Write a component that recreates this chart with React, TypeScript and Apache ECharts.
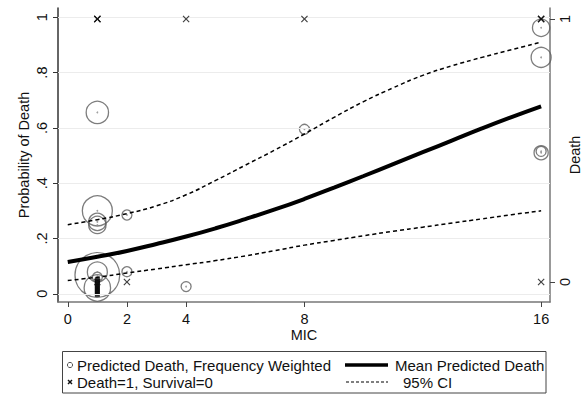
import React, { useEffect, useRef } from "react";
import * as echarts from "echarts";

// ---------- data ----------
const MIC_TICKS = [0, 2, 4, 8, 16];
const PROB_TICKS = [0, 0.2, 0.4, 0.6, 0.8, 1];
const DEATH_TICKS = [0, 1];

// predicted death (frequency weighted circles)
const circleMIC = [1, 1, 1, 1, 2, 1, 1, 1, 1, 2, 4, 8, 16, 16, 16, 16];
const circlePred = [0.656, 0.3, 0.26, 0.249, 0.285, 0.068, 0.079, 0.06, 0.021, 0.08, 0.026, 0.595, 0.962, 0.855, 0.51, 0.515];
const circleFreq = [5, 9, 3, 3, 1, 20, 4, 1, 7, 1, 1, 1, 3, 4, 2, 1];

// stacked tiny predictions near zero at MIC 1
const lowMIC = [1, 1, 1, 1, 1, 1, 1, 1, 1];
const lowPred = [0.052, 0.045, 0.038, 0.031, 0.024, 0.017, 0.01, 0.003, -0.004];

// observed outcome (Death=1, Survival=0)
const obsMIC = [1, 1, 1, 4, 8, 16, 16, 16, 1, 2, 16];
const obsDeath = [1, 1, 1, 1, 1, 1, 1, 1, 0, 0, 0];

// fitted curve and 95% CI
const curveMIC = [0, 1, 2, 3, 4, 5, 6, 7, 8, 9, 10, 11, 12, 13, 14, 15, 16];
const meanPred = [0.115, 0.134, 0.155, 0.18, 0.207, 0.237, 0.27, 0.305, 0.343, 0.384, 0.426, 0.469, 0.512, 0.555, 0.598, 0.639, 0.678];
const ciUpper = [0.25, 0.268, 0.29, 0.318, 0.358, 0.41, 0.465, 0.52, 0.578, 0.638, 0.695, 0.745, 0.79, 0.825, 0.855, 0.883, 0.91];
const ciLower = [0.048, 0.06, 0.075, 0.09, 0.105, 0.12, 0.137, 0.156, 0.176, 0.193, 0.21, 0.226, 0.241, 0.256, 0.271, 0.286, 0.3];

const LEG_CIRCLE = "Predicted Death, Frequency Weighted";
const LEG_CROSS = "Death=1, Survival=0";
const LEG_MEAN = "Mean Predicted Death";
const LEG_CI = "95% CI";

const FONT = "'Liberation Sans', Arial, Helvetica, sans-serif";
const CROSS_PATH = "path://M0,1.2L1.2,0L5,3.8L8.8,0L10,1.2L6.2,5L10,8.8L8.8,10L5,6.2L1.2,10L0,8.8L3.8,5Z";

const fmtProb = (v: number) => {
  if (Math.abs(v) < 1e-9) return "0";
  if (Math.abs(v - 1) < 1e-9) return "1";
  return "." + Math.round(v * 10);
};

export default function App() {
  const ref = useRef<HTMLDivElement>(null);
  useEffect(() => {
    if (!ref.current) return;
    const chart = echarts.init(ref.current, undefined, { renderer: "svg" });
    const txt = { fontFamily: FONT, fontSize: 14.5, color: "#111" };
    const option: any = {
      animation: false,
      backgroundColor: "#fff",
      textStyle: { fontFamily: FONT },
      grid: { left: 58, right: 33, top: 8, bottom: 94, containLabel: false, outerBoundsMode: "none" },
      xAxis: {
        type: "value",
        min: -0.33,
        max: 16.3,
        name: "MIC",
        nameLocation: "middle",
        nameGap: 25,
        nameMoveOverlap: false,
        nameTextStyle: txt,
        axisLine: { show: true, onZero: false, lineStyle: { color: "#777", width: 1.5 } },
        axisTick: { show: true, customValues: MIC_TICKS, length: 5, lineStyle: { color: "#444", width: 1 } },
        axisLabel: { customValues: MIC_TICKS, ...txt, margin: 9 },
        splitLine: { show: false },
      },
      yAxis: [
        {
          type: "value",
          min: -0.0297,
          max: 1.0336,
          position: "left",
          name: "Probability of Death",
          nameLocation: "middle",
          nameGap: 27,
          nameMoveOverlap: false,
          nameTextStyle: txt,
          axisLine: { show: true, onZero: false, lineStyle: { color: "#333", width: 1.5 } },
          axisTick: { show: true, customValues: PROB_TICKS, length: 5, lineStyle: { color: "#333", width: 1 } },
          axisLabel: { customValues: PROB_TICKS, rotate: 90, ...txt, margin: 9, formatter: (v: number) => fmtProb(v) },
          splitLine: { show: false },
        },
        {
          type: "value",
          min: -0.076,
          max: 1.0418,
          position: "right",
          name: "Death",
          nameLocation: "middle",
          nameGap: 17,
          nameMoveOverlap: false,
          nameTextStyle: txt,
          axisLine: { show: true, onZero: false, lineStyle: { color: "#777", width: 1.5 } },
          axisTick: { show: true, customValues: DEATH_TICKS, length: 5, lineStyle: { color: "#444", width: 1 } },
          axisLabel: { customValues: DEATH_TICKS, rotate: 90, ...txt, margin: 7 },
          splitLine: { show: false },
        },
      ],
      series: [
        {
          type: "scatter",
          name: "grid",
          data: [],
          z: 0,
          silent: true,
          markLine: {
            silent: true,
            symbol: ["none", "none"],
            label: { show: false },
            lineStyle: { color: "#ececec", width: 1, type: "solid" },
            data: PROB_TICKS.map((v) => ({ yAxis: v })),
          },
        },
        {
          type: "scatter",
          name: LEG_CIRCLE,
          yAxisIndex: 0,
          clip: false,
          z: 3,
          data: circleMIC.map((m, i) => [m, circlePred[i], circleFreq[i]]),
          symbol: "circle",
          symbolSize: (v: number[]) => 10 * Math.sqrt(v[2]),
          itemStyle: { color: "rgba(0,0,0,0)", borderColor: "#5c5c5c", borderWidth: 1.3 },
        },
        {
          type: "scatter",
          name: "centers",
          yAxisIndex: 0,
          clip: false,
          z: 3,
          data: circleMIC.map((m, i) => [m, circlePred[i]]),
          symbol: "circle",
          symbolSize: 1.8,
          itemStyle: { color: "#8a8a8a" },
        },
        {
          type: "scatter",
          name: "low",
          yAxisIndex: 0,
          clip: false,
          z: 4,
          data: lowMIC.map((m, i) => [m, lowPred[i]]),
          symbol: "rect",
          symbolSize: [5, 4],
          itemStyle: { color: "#000" },
        },
        {
          type: "scatter",
          name: LEG_CROSS,
          yAxisIndex: 1,
          clip: false,
          z: 5,
          data: obsMIC.map((m, i) => [m, obsDeath[i]]),
          symbol: CROSS_PATH,
          symbolSize: 7,
          itemStyle: { color: "#111" },
        },
        {
          type: "line",
          name: LEG_MEAN,
          yAxisIndex: 0,
          smooth: true,
          showSymbol: false,
          z: 6,
          data: curveMIC.map((m, i) => [m, meanPred[i]]),
          lineStyle: { color: "#000", width: 4 },
        },
        {
          type: "line",
          name: LEG_CI + " upper",
          yAxisIndex: 0,
          smooth: true,
          showSymbol: false,
          z: 6,
          data: curveMIC.map((m, i) => [m, ciUpper[i]]),
          lineStyle: { color: "#000", width: 1.5, type: [4, 3] },
        },
        {
          type: "line",
          name: LEG_CI + " lower",
          yAxisIndex: 0,
          smooth: true,
          showSymbol: false,
          z: 6,
          data: curveMIC.map((m, i) => [m, ciLower[i]]),
          lineStyle: { color: "#000", width: 1.5, type: [4, 3] },
        },
      ],
      graphic: [
        {
          type: "rect",
          shape: { x: 62.5, y: 351.5, width: 483.5, height: 41.5 },
          style: { fill: "#fff", stroke: "#444", lineWidth: 1 },
        },
        { type: "circle", shape: { cx: 70, cy: 365, r: 2.6 }, style: { fill: "none", stroke: "#555", lineWidth: 1 } },
        {
          type: "text",
          x: 77,
          y: 365,
          style: { text: LEG_CIRCLE, font: `15px ${FONT}`, fill: "#111", verticalAlign: "middle", align: "left" },
        },
        { type: "line", shape: { x1: 68, y1: 380, x2: 72, y2: 384 }, style: { stroke: "#111", lineWidth: 1.4 } },
        { type: "line", shape: { x1: 72, y1: 380, x2: 68, y2: 384 }, style: { stroke: "#111", lineWidth: 1.4 } },
        {
          type: "text",
          x: 77,
          y: 382,
          style: { text: LEG_CROSS, font: `15px ${FONT}`, fill: "#111", verticalAlign: "middle", align: "left" },
        },
        { type: "line", shape: { x1: 345, y1: 365, x2: 388, y2: 365 }, style: { stroke: "#000", lineWidth: 3.5 } },
        {
          type: "text",
          x: 395,
          y: 365,
          style: { text: LEG_MEAN, font: `15px ${FONT}`, fill: "#111", verticalAlign: "middle", align: "left" },
        },
        {
          type: "line",
          shape: { x1: 346, y1: 382, x2: 388, y2: 382 },
          style: { stroke: "#000", lineWidth: 1.2, lineDash: [3, 2] },
        },
        {
          type: "text",
          x: 403,
          y: 382,
          style: { text: LEG_CI, font: `15px ${FONT}`, fill: "#111", verticalAlign: "middle", align: "left" },
        },
      ],
    };
    chart.setOption(option);
    return () => chart.dispose();
  }, []);
  return <div ref={ref} style={{ width: 583, height: 396, position: "absolute", left: 0, top: 0 }} />;
}
